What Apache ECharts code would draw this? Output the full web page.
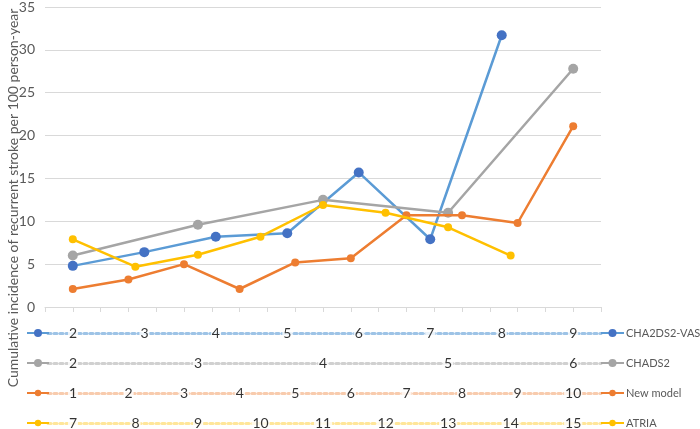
<!DOCTYPE html>
<html><head><meta charset="utf-8">
<script src="https://cdn.jsdelivr.net/npm/echarts@6/dist/echarts.min.js"></script>
<style>html,body{margin:0;padding:0;background:#fff}#c{width:700px;height:429px}</style>
</head><body><div id="c"></div>
<script>
// ---- data ----
const yTicks = [0, 5, 10, 15, 20, 25, 30, 35];
const seriesNames = ['CHA2DS2-VASc', 'CHADS2', 'New model', 'ATRIA'];
const vascCats = ['2', '3', '4', '5', '6', '7', '8', '9'];
const vascVals = [4.8, 6.4, 8.2, 8.6, 15.7, 7.9, 31.7, null];
const chadsCats = ['2', '3', '4', '5', '6'];
const chadsVals = [6.0, 9.6, 12.5, 11.0, 27.8];
const newCats = ['1', '2', '3', '4', '5', '6', '7', '8', '9', '10'];
const newVals = [2.1, 3.2, 5.0, 2.1, 5.2, 5.7, 10.7, 10.7, 9.8, 21.1];
const atriaCats = ['7', '8', '9', '10', '11', '12', '13', '14', '15'];
const atriaVals = [7.9, 4.7, 6.1, 8.2, 11.9, 11.0, 9.3, 6.0, null];

// ---- styling ----
const FONT = 'Lato, "Liberation Sans", sans-serif';
const cfg = [
  {cats: vascCats, vals: vascVals, line: '#5B9BD5', mark: '#4472C4', dot: '#9DC3E6', size: 10},
  {cats: chadsCats, vals: chadsVals, line: '#A5A5A5', mark: '#A5A5A5', dot: '#D0D0D0', size: 10},
  {cats: newCats, vals: newVals, line: '#ED7D31', mark: '#ED7D31', dot: '#F8CBAD', size: 8},
  {cats: atriaCats, vals: atriaVals, line: '#FFC000', mark: '#FFC000', dot: '#FFE699', size: 8}
];
const rowY = [333, 363, 393, 423];
// categories of each series are spread evenly over the shared span [1, 19]
const pos = (i, n) => 1 + i * 18 / (n - 1);

const grids = [{left: 45, right: 99, top: 6, height: 301}];
const xAxes = [{
  type: 'value', gridIndex: 0, min: 0, max: 20, interval: 1,
  axisLabel: {show: false}, splitLine: {show: false},
  axisLine: {show: true, lineStyle: {color: '#D9D9D9', width: 1}},
  axisTick: {show: true, length: 5, lineStyle: {color: '#D9D9D9'}}
}];
const yAxes = [{
  type: 'value', gridIndex: 0, min: yTicks[0], max: yTicks[yTicks.length - 1], interval: 5,
  axisLine: {show: false}, axisTick: {show: false},
  axisLabel: {color: '#595959', fontSize: 14, fontFamily: FONT, margin: 10},
  splitLine: {lineStyle: {color: '#D9D9D9', width: 1}}
}];
const series = [];
const legends = [];

cfg.forEach((c, k) => {
  series.push({
    name: seriesNames[k], type: 'line', xAxisIndex: 0, yAxisIndex: 0,
    data: c.vals.map((v, i) => [pos(i, c.cats.length), v]).filter(d => d[1] != null),
    symbol: 'circle', symbolSize: c.size, showSymbol: true,
    lineStyle: {color: c.line, width: 2.5},
    itemStyle: {color: c.mark}, z: 2 + k
  });
  grids.push({left: 48, right: 99, top: rowY[k] - 10, height: 10});
  xAxes.push({
    type: 'value', gridIndex: k + 1, min: 0.1, max: 20,
    axisLabel: {show: false}, axisTick: {show: false}, splitLine: {show: false},
    axisLine: {show: true, lineStyle: {color: c.dot, width: 3, type: 'dotted'}}
  });
  yAxes.push({type: 'value', gridIndex: k + 1, min: 0, max: 1, show: false});
  series.push({
    type: 'scatter', xAxisIndex: k + 1, yAxisIndex: k + 1, silent: true,
    data: c.cats.map((t, i) => [pos(i, c.cats.length), 0, t]),
    symbolSize: 1, itemStyle: {color: 'rgba(0,0,0,0)'},
    label: {
      show: true, position: 'inside', formatter: p => p.value[2],
      color: '#000', fontSize: 14, fontFamily: FONT,
      backgroundColor: '#fff', padding: [1, 1]
    }
  });
  const ih = c.size;
  legends.push({
    data: [seriesNames[k]], left: 26, top: rowY[k] - ih / 2, padding: 0,
    itemWidth: 22, itemHeight: ih, selectedMode: false, formatter: () => '',
    textStyle: {fontSize: 1}
  });
  legends.push({
    data: [seriesNames[k]], left: 600, top: rowY[k] - 7, padding: 0,
    itemWidth: 23, itemHeight: ih, selectedMode: false,
    textStyle: {color: '#595959', fontSize: 11, fontFamily: FONT, padding: [0, 0, 0, -3], lineHeight: 14}
  });
});

const chart = echarts.init(document.getElementById('c'), null, {renderer: 'canvas'});
chart.setOption({
  animation: false,
  backgroundColor: '#fff',
  grid: grids, xAxis: xAxes, yAxis: yAxes, series: series, legend: legends,
  graphic: [{
    type: 'text', x: 13, y: 198, rotation: Math.PI / 2,
    style: {
      text: 'Cumulative incidence of recurrent stroke per 100 person-year',
      fill: '#595959', fontSize: 14, fontFamily: FONT, align: 'center', verticalAlign: 'middle'
    }
  }]
});
</script></body></html>
